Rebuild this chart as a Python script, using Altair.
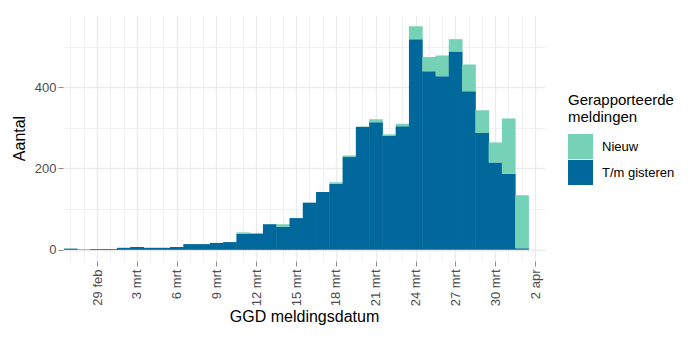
import altair as alt
import pandas as pd

# ---- data ----
dates = [
    "2020-02-27", "2020-02-28", "2020-02-29", "2020-03-01", "2020-03-02",
    "2020-03-03", "2020-03-04", "2020-03-05", "2020-03-06", "2020-03-07",
    "2020-03-08", "2020-03-09", "2020-03-10", "2020-03-11", "2020-03-12",
    "2020-03-13", "2020-03-14", "2020-03-15", "2020-03-16", "2020-03-17",
    "2020-03-18", "2020-03-19", "2020-03-20", "2020-03-21", "2020-03-22",
    "2020-03-23", "2020-03-24", "2020-03-25", "2020-03-26", "2020-03-27",
    "2020-03-28", "2020-03-29", "2020-03-30", "2020-03-31", "2020-04-01",
]
tm_gisteren = [
    3, 1, 2, 2, 5,
    7, 5, 5, 7, 14,
    14, 17, 19, 39, 40,
    63, 57, 78, 116, 142,
    162, 228, 302, 314, 280,
    304, 518, 439, 427, 488,
    390, 287, 215, 187, 4,
]
nieuw = [
    0, 0, 0, 0, 0,
    0, 0, 0, 0, 0,
    0, 0, 0, 4, 0,
    0, 6, 0, 0, 0,
    4, 4, 1, 7, 4,
    6, 32, 35, 51, 30,
    66, 56, 49, 136, 130,
]
tick_dates = dates + ["2020-04-02"]
series_names = ["Nieuw", "T/m gisteren"]
series_colors = ["#76D2B6", "#01689B"]

# ---- build table: bars centred on each date, stacked by hand ----
rows = []
for d, b, n in zip(dates, tm_gisteren, nieuw):
    t = pd.Timestamp(d, tz="UTC")
    start = (t - pd.Timedelta(hours=12)).strftime("%Y-%m-%dT%H:%M:%SZ")
    end = (t + pd.Timedelta(hours=12)).strftime("%Y-%m-%dT%H:%M:%SZ")
    rows.append({"start": start, "end": end, "serie": "T/m gisteren", "y0": 0, "y1": b})
    rows.append({"start": start, "end": end, "serie": "Nieuw", "y0": b, "y1": b + n})
df = pd.DataFrame(rows)


def dt(s, hours=0, minutes=0):
    t = pd.Timestamp(s)
    return alt.DateTime(year=t.year, month=t.month, date=t.day,
                        hours=hours, minutes=minutes, utc=True)


tick_values = [dt(s) for s in tick_dates]
major_x = "round((datum.value - utc(2020,1,29)) / 86400000) % 3 == 0"
major_y = "datum.value % 200 == 0"
FONT = "Liberation Sans"

x_axis = alt.Axis(
    values=tick_values,
    title="GGD meldingsdatum",
    labelAngle=270,
    labelOverlap=False,
    labelExpr=("(" + major_x + ") ? utcdate(datum.value) + ' ' + "
               "['jan','feb','mrt','apr'][utcmonth(datum.value)] : ''"),
    labelFontSize=13, labelColor="#4D4D4D", labelFont=FONT, labelPadding=3,
    titleFontSize=16, titleColor="#000000", titleFont=FONT,
    titleFontWeight="normal", titlePadding=3,
    domain=False,
    tickSize=5, tickColor="#8C8C8C", tickWidth=1,
    tickOpacity={"condition": {"test": major_x, "value": 1}, "value": 0},
    grid=True, gridColor="#EBEBEB",
    gridWidth={"condition": {"test": major_x, "value": 1.4}, "value": 0.7},
)

y_axis = alt.Axis(
    values=[0, 100, 200, 300, 400, 500],
    title="Aantal",
    labelExpr="(" + major_y + ") ? datum.label : ''",
    labelFontSize=13, labelColor="#4D4D4D", labelFont=FONT, labelPadding=2,
    titleFontSize=16, titleColor="#000000", titleFont=FONT,
    titleFontWeight="normal", titlePadding=7,
    domain=False,
    tickSize=5, tickColor="#8C8C8C", tickWidth=1,
    tickOpacity={"condition": {"test": major_y, "value": 1}, "value": 0},
    grid=True, gridColor="#EBEBEB",
    gridWidth={"condition": {"test": major_y, "value": 1.4}, "value": 0.7},
)

chart = (
    alt.Chart(df)
    .mark_bar(strokeWidth=0, x2Offset=0.5)
    .encode(
        x=alt.X("start:T", axis=x_axis,
                scale=alt.Scale(type="utc", nice=False,
                                domain=[dt("2020-02-26", 10, 30),
                                        dt("2020-04-02", 18, 0)])),
        x2="end:T",
        y=alt.Y("y0:Q", axis=y_axis,
                scale=alt.Scale(domain=[-27.5, 577.5], nice=False, zero=False)),
        y2="y1:Q",
        color=alt.Color(
            "serie:N",
            scale=alt.Scale(domain=series_names, range=series_colors),
            legend=alt.Legend(
                title=["Gerapporteerde", "meldingen"],
                orient="none", legendX=505, legendY=78,
                titleFontSize=15, titleFont=FONT, titleColor="#000000",
                titleFontWeight="normal", titleLineHeight=17, titlePadding=9,
                labelFontSize=13, labelFont=FONT, labelColor="#000000",
                labelOffset=9,
                symbolType="square", symbolSize=625, symbolStrokeWidth=0,
                symbolOpacity=1, rowPadding=1, padding=0,
            ),
        ),
        tooltip=["serie:N", "y0:Q", "y1:Q"],
    )
    .properties(
        width=482, height=246,
        autosize=alt.AutoSizeParams(type="none"),
        padding={"left": 63, "top": 15, "right": 147, "bottom": 78},
        background="#FFFFFF",
    )
    .configure_view(stroke=None)
)

chart.save("out.html", embed_options={"renderer": "svg", "actions": False})
